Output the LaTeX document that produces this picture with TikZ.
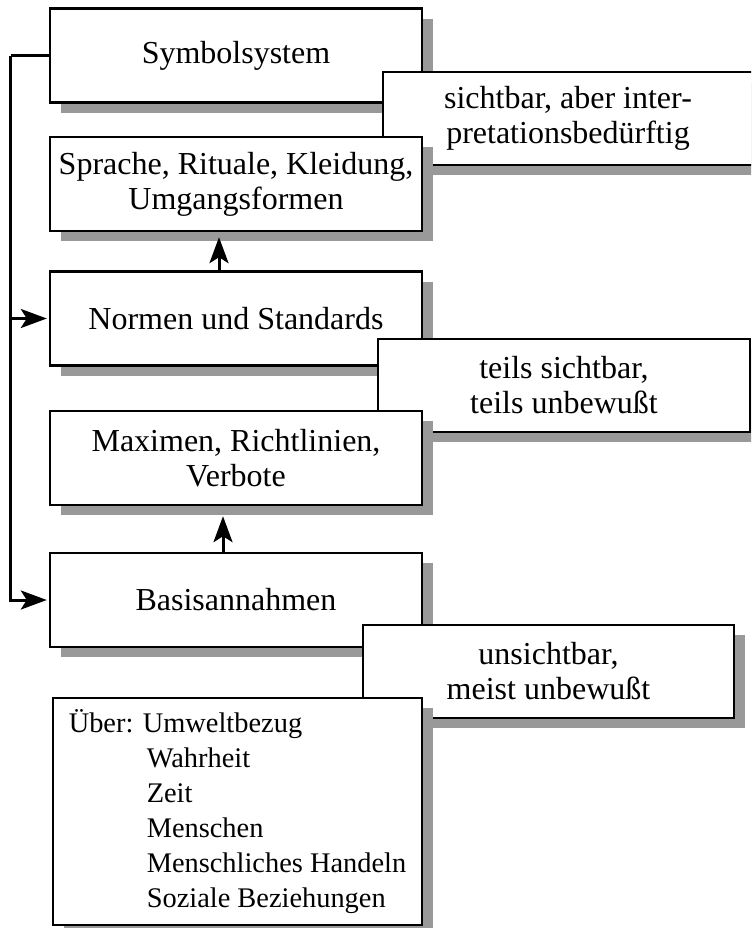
\documentclass[tikz,border=0pt]{standalone}
\usepackage{fontspec}
\setmainfont{Liberation Serif}
\usetikzlibrary{shadows,arrows.meta}

\begin{document}
\begin{tikzpicture}[x=0.5pt,y=-0.5pt,
		every node/.style={font=\fontsize{16pt}{17.5pt}\selectfont},
		kasten/.style={draw,line width=1.2pt,fill=white,minimum width=186pt,minimum height=47pt,
			align=center,inner sep=0pt,
			drop shadow={shadow xshift=5.5pt,shadow yshift=-5pt,fill=black!40,opacity=1}},
		hinweis/.style={kasten,minimum width=186pt,minimum height=46.5pt},
		pfeil/.style={line width=1.5pt,-{Stealth[length=13pt,width=9.5pt,inset=3pt]}}]
				% Bild: 751 x 928
				\useasboundingbox (0,0) rectangle (751,928);
				\clip (0,0) rectangle (751,928);
				\node[kasten] (symbol) at (236,55.5) {Symbolsystem};
				\node[hinweis,minimum width=185pt] (sichtbar) at (568,118.5) {sichtbar, aber inter-\\pretationsbedürftig};
				\node[kasten] (sprache) at (236,184) {Sprache, Rituale, Kleidung,\\Umgangsformen};
				\node[kasten] (normen) at (236,318.5) {Normen und Standards};
				\node[hinweis] (teils) at (564,385.5) {teils sichtbar,\\teils unbewußt};
				\node[kasten] (maximen) at (236,458) {Maximen, Richtlinien,\\Verbote};
				\node[kasten] (basis) at (236,600) {Basisannahmen};
				\node[hinweis,minimum width=185.5pt] (unsichtbar) at (548.5,671.5) {unsichtbar,\\meist unbewußt};
				\node[kasten,align=left,minimum width=184.5pt,minimum height=113.5pt,
					font=\fontsize{14.2pt}{17.5pt}\selectfont] (ueber) at (237.5,811.5)
					{Über: Umweltbezug\\\hspace*{39pt}Wahrheit\\\hspace*{39pt}Zeit\\\hspace*{39pt}Menschen\\
					\hspace*{39pt}Menschliches Handeln\\\hspace*{39pt}Soziale Beziehungen};
				% Pfeile
				\draw[pfeil] ([xshift=-8.5pt]normen.north) -- ([xshift=-8.5pt,yshift=-2.5pt]sprache.south);
				\draw[pfeil] ([xshift=-6.5pt]basis.north) -- ([xshift=-6.5pt,yshift=-5pt]maximen.south);
				\draw[line width=1.5pt] (symbol.west) -- ++(-38,0) coordinate (schiene);
				\draw[pfeil] (schiene) |- ([xshift=-1pt]basis.west);
				\draw[pfeil] (schiene |- normen.west) -- ([xshift=-1pt]normen.west);
			\end{tikzpicture}
\end{document}
